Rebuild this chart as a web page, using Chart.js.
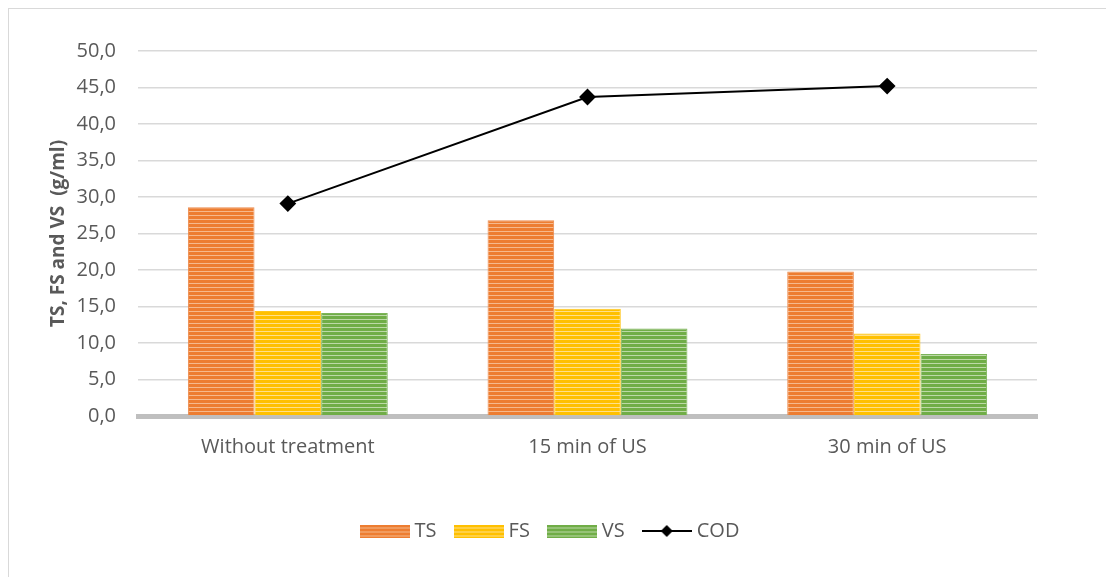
<!DOCTYPE html>
<html>
<head>
<meta charset="utf-8">
<script src="https://cdn.jsdelivr.net/npm/chart.js@4.4.1/dist/chart.umd.min.js"></script>
<style>
  html, body { margin: 0; padding: 0; background: #ffffff; }
  #wrap { position: relative; width: 1106px; height: 577px; overflow: hidden; }
  #frame { position: absolute; left: 8px; top: 8px; width: 1200px; height: 700px;
           border-left: 1px solid #d9d9d9; border-top: 1px solid #d9d9d9; }
  canvas { position: absolute; left: 0; top: 0; }
</style>
</head>
<body>
<div id="wrap">
  <div id="frame"></div>
  <canvas id="chart" width="1106" height="577"></canvas>
</div>
<script>
// Treatments on the category axis
const categories = ['Without treatment', '15 min of US', '30 min of US'];
// Solids (g/ml) per treatment
const tsValues = [28.6, 26.8, 19.8];
const fsValues = [14.4, 14.7, 11.3];
const vsValues = [14.1, 12.0, 8.5];
// COD per treatment
const codValues = [29.1, 43.7, 45.2];
// Value axis
const yMin = 0, yMax = 50, yStep = 5;

const FONT = '"Open Sans", "DejaVu Sans", sans-serif';
const TEXT = '#595959';

// Horizontal striped fill used for the bars
function stripes(base, light) {
  const c = document.createElement('canvas');
  c.width = 8; c.height = 4;
  const g = c.getContext('2d');
  g.fillStyle = base; g.fillRect(0, 0, 8, 4);
  g.fillStyle = light; g.fillRect(0, 3, 8, 1);
  return g.createPattern(c, 'repeat');
}

// Legend swatch images
function swatch(fill) {
  const c = document.createElement('canvas');
  c.width = 50; c.height = 13;
  const g = c.getContext('2d');
  g.fillStyle = fill; g.fillRect(0, 0, 50, 13);
  return c;
}
function lineSwatch() {
  const c = document.createElement('canvas');
  c.width = 50; c.height = 14;
  const g = c.getContext('2d');
  g.strokeStyle = '#000'; g.lineWidth = 2;
  g.beginPath(); g.moveTo(0, 7); g.lineTo(50, 7); g.stroke();
  g.fillStyle = '#000';
  g.beginPath(); g.moveTo(25, 1); g.lineTo(31, 7); g.lineTo(25, 13); g.lineTo(19, 7); g.closePath(); g.fill();
  return c;
}

const orange = stripes('#ED7D31', '#F6B98C');
const yellow = stripes('#FFC000', '#FFE08A');
const green = stripes('#70AD47', '#BCD9A7');
const legendIcons = [swatch(orange), swatch(yellow), swatch(green), lineSwatch()];

// Nudge the legend row horizontally
const legendShift = {
  id: 'legendShift',
  afterLayout(chart) {
    const l = chart.legend;
    if (l) { l.left += 10; l.right += 10; }
  }
};

const ctx = document.getElementById('chart').getContext('2d');
new Chart(ctx, {
  data: {
    labels: categories,
    datasets: [
      { type: 'bar', label: 'TS', data: tsValues, backgroundColor: orange,
        borderColor: '#EC8A4C', borderWidth: 1, order: 2 },
      { type: 'bar', label: 'FS', data: fsValues, backgroundColor: yellow,
        borderColor: '#FFC61A', borderWidth: 1, order: 2 },
      { type: 'bar', label: 'VS', data: vsValues, backgroundColor: green,
        borderColor: '#7DB45A', borderWidth: 1, order: 2 },
      { type: 'line', label: 'COD', data: codValues, borderColor: '#000000', borderWidth: 2,
        backgroundColor: '#000000', pointStyle: 'rectRot', pointRadius: 7, pointHoverRadius: 7,
        pointBackgroundColor: '#000000', pointBorderColor: '#000000', tension: 0, order: 1 }
    ]
  },
  options: {
    responsive: false,
    animation: false,
    layout: { padding: { left: 47, right: 69, top: 51, bottom: 26 } },
    datasets: { bar: { categoryPercentage: 0.667, barPercentage: 1.0 } },
    scales: {
      x: {
        z: 1,
        grid: { display: false, drawTicks: false },
        border: { display: true, color: '#bfbfbf', width: 5 },
        ticks: { color: TEXT, padding: 19, font: { family: FONT, size: 20 } },
        afterFit: s => { s.height = 83; }
      },
      y: {
        min: yMin, max: yMax,
        grid: { color: '#d9d9d9', lineWidth: 1.5, drawTicks: false },
        border: { display: false },
        ticks: {
          stepSize: yStep, color: TEXT, padding: 22,
          font: { family: FONT, size: 20 },
          callback: v => v.toFixed(1).replace('.', ',')
        },
        title: {
          display: true, text: 'TS, FS and VS  (g/ml)', color: TEXT, padding: 0,
          font: { family: FONT, size: 19, weight: 'bold' }
        },
        afterFit: s => { s.width = 91; }
      }
    },
    plugins: {
      legend: {
        position: 'bottom',
        labels: {
          usePointStyle: true, pointStyleWidth: 40, boxHeight: 14, padding: 22,
          color: TEXT, font: { family: FONT, size: 20 },
          sort: (a, b) => a.datasetIndex - b.datasetIndex,
          generateLabels: chart => {
            const items = Chart.defaults.plugins.legend.labels.generateLabels(chart);
            items.forEach(it => { it.pointStyle = legendIcons[it.datasetIndex]; });
            return items;
          }
        }
      },
      tooltip: { enabled: false }
    }
  },
  plugins: [legendShift]
});
</script>
</body>
</html>
